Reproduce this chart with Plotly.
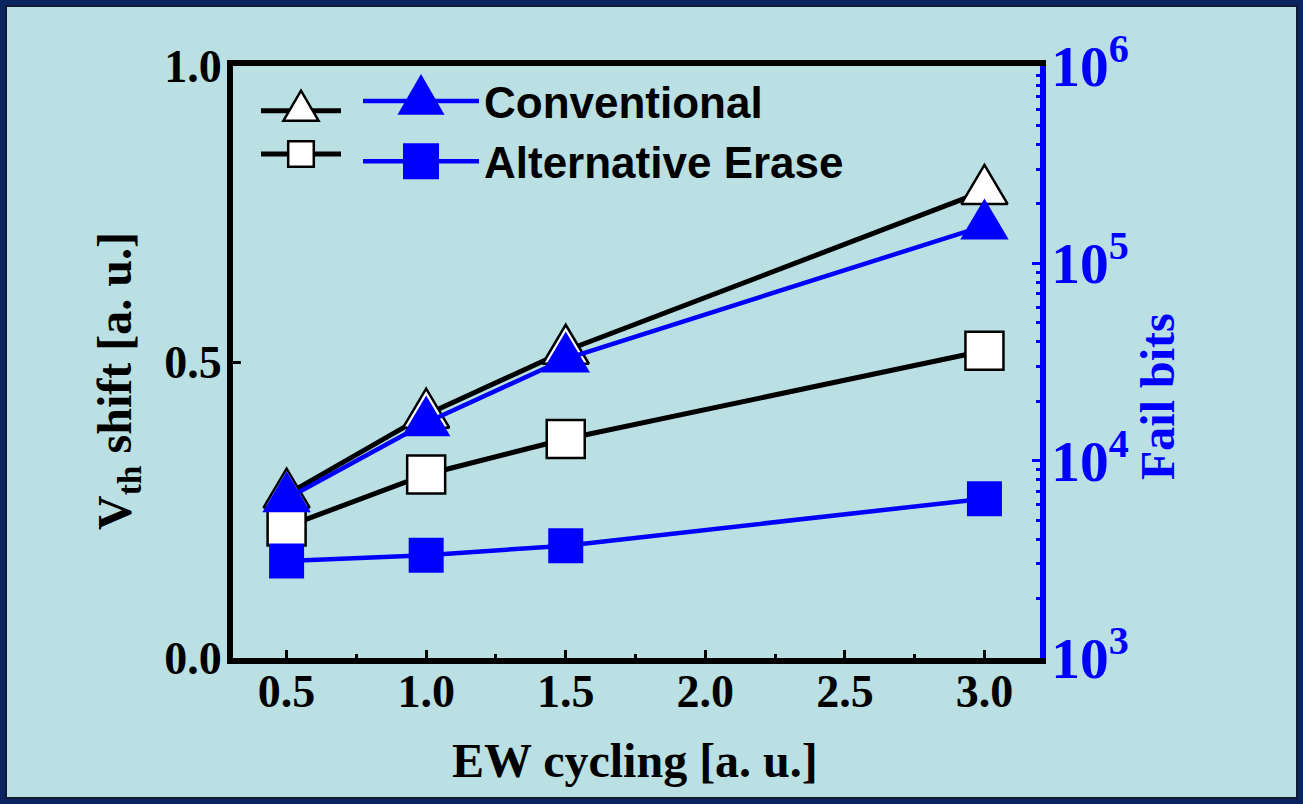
import plotly.graph_objects as go

# ---- data ----
ew_cycles = [0.5, 1.0, 1.5, 3.0]
vth_conventional = [0.276, 0.411, 0.519, 0.789]
vth_alt_erase = [0.222, 0.310, 0.370, 0.519]
failbits_conventional = [6420, 15570, 32840, 154900]
failbits_alt_erase = [3100, 3320, 3710, 6420]
legend_labels = ["Conventional", "Alternative Erase"]

x_tick_vals = [0.5, 1.0, 1.5, 2.0, 2.5, 3.0]
y_tick_vals = [0.0, 0.5, 1.0]

x_title = "EW cycling [a. u.]"
y_title = "V<sub>th</sub> shift [a. u.]"
y2_title = "Fail bits"

# ---- geometry ----
W, H = 1303, 804
ML, MR, MT, MB = 233, 263, 66, 146
PW = W - ML - MR
PH = H - MT - MB


def px_x(p):
    return (p - ML) / PW


def px_y(p):
    return (H - MB - p) / PH


BG = "#bae0e3"
NAVY = "#0b2462"
BLUE = "#0000ff"
SERIF = "Liberation Serif, Times New Roman, serif"
SANS = "Liberation Sans, Arial, sans-serif"

fig = go.Figure()

# black (left axis, Vth shift)
fig.add_trace(go.Scatter(
    x=ew_cycles, y=vth_conventional, mode="lines+markers", name=" ",
    line=dict(color="black", width=5),
    marker=dict(symbol="triangle-up", size=40, color="white",
                line=dict(color="black", width=2.5)),
    legend="legend", yaxis="y"))
fig.add_trace(go.Scatter(
    x=ew_cycles, y=vth_alt_erase, mode="lines+markers", name=" ",
    line=dict(color="black", width=5),
    marker=dict(symbol="square", size=38, color="white",
                line=dict(color="black", width=2.5)),
    legend="legend", yaxis="y"))

# blue (right axis, fail bits)
fig.add_trace(go.Scatter(
    x=ew_cycles, y=failbits_conventional, mode="lines+markers",
    name=legend_labels[0],
    line=dict(color=BLUE, width=4.5),
    marker=dict(symbol="triangle-up", size=42, color=BLUE,
                line=dict(color=BLUE, width=0)),
    legend="legend2", yaxis="y2"))
fig.add_trace(go.Scatter(
    x=ew_cycles, y=failbits_alt_erase, mode="lines+markers",
    name=legend_labels[1],
    line=dict(color=BLUE, width=4.5),
    marker=dict(symbol="square", size=35, color=BLUE,
                line=dict(color=BLUE, width=0)),
    legend="legend2", yaxis="y2"))

tick_font = dict(family=SERIF, size=46, color="black", weight="bold")
title_font = dict(family=SERIF, size=48, color="black", weight="bold")

fig.update_layout(
    width=W, height=H,
    margin=dict(l=ML, r=MR, t=MT, b=MB),
    paper_bgcolor=NAVY,
    plot_bgcolor="rgba(0,0,0,0)",
    xaxis=dict(
        range=[0.308, 3.199], tickmode="array", tickvals=x_tick_vals,
        ticktext=[f"{v:.1f}" for v in x_tick_vals],
        ticks="inside", ticklen=8, tickwidth=3, tickcolor="black",
        minor=dict(ticks="inside", ticklen=4, tickwidth=3, tickcolor="black",
                   tick0=0.75, dtick=0.5, showgrid=False),
        showline=True, linecolor="black", linewidth=6, mirror=True,
        showgrid=False, zeroline=False,
        tickfont=tick_font, ticklabelstandoff=-12,
    ),
    yaxis=dict(
        range=[0, 1.0], tickmode="array", tickvals=y_tick_vals,
        ticktext=[f"{v:.1f}" for v in y_tick_vals],
        ticks="inside", ticklen=8, tickwidth=3, tickcolor="black",
        showline=True, linecolor="black", linewidth=6,
        showgrid=False, zeroline=False,
        tickfont=tick_font, ticklabelstandoff=-4,
    ),
    yaxis2=dict(
        type="log", range=[3, 6], overlaying="y", side="right",
        dtick=1, exponentformat="power",
        ticks="inside", ticklen=8, tickwidth=3, tickcolor=BLUE,
        minor=dict(ticks="inside", ticklen=4, tickwidth=3, tickcolor=BLUE,
                   dtick="D1", showgrid=False),
        showline=True, linecolor=BLUE, linewidth=6,
        showgrid=False, zeroline=False,
        tickfont=dict(family=SERIF, size=46, color=BLUE, weight="bold"),
        ticklabelstandoff=-4,
    ),
    legend=dict(
        x=px_x(256), y=px_y(84), xanchor="left", yanchor="top",
        bgcolor="rgba(0,0,0,0)", borderwidth=0,
        font=dict(family=SANS, size=31, color="black", weight="bold"),
        itemsizing="trace", itemwidth=80, tracegroupgap=0,
    ),
    legend2=dict(
        x=px_x(358), y=px_y(66), xanchor="left", yanchor="top",
        bgcolor="rgba(0,0,0,0)", borderwidth=0,
        font=dict(family=SANS, size=44, color="black", weight="bold"),
        itemsizing="trace", itemwidth=116, tracegroupgap=0,
    ),
    showlegend=True,
    annotations=[
        dict(text=x_title, xref="paper", yref="paper", x=px_x(635), y=px_y(760),
             xanchor="center", yanchor="middle", showarrow=False, font=title_font),
        dict(text=y_title, xref="paper", yref="paper", x=px_x(118), y=px_y(381),
             xanchor="center", yanchor="middle", showarrow=False, textangle=-90,
             font=title_font),
        dict(text=y2_title, xref="paper", yref="paper", x=px_x(1157), y=px_y(397),
             xanchor="center", yanchor="middle", showarrow=False, textangle=-90,
             font=dict(family=SERIF, size=48, color=BLUE, weight="bold")),
    ],
    shapes=[
        dict(type="rect", xref="paper", yref="paper", layer="below",
             x0=px_x(6), x1=px_x(W - 6), y0=px_y(H - 6), y1=px_y(6),
             fillcolor=BG, line=dict(color="#111a33", width=2)),
    ],
)

# Cosmetic: Origin-style equilateral triangles and larger legend keys
post_js = """
var gd = document.getElementById('{plot_id}');
function isTri(p){ return (p.getAttribute('d') || '').indexOf('L0,-') >= 0; }
function isWhite(p){ return (p.style.fill || '').replace(/\\s/g,'').indexOf('255,255,255') >= 0; }
function addScale(p, sx, sy){
  if (p.getAttribute('data-fx')) return;
  p.setAttribute('transform', (p.getAttribute('transform') || '') + ' scale(' + sx + ',' + sy + ')');
  p.style.vectorEffect = 'non-scaling-stroke';
  p.setAttribute('data-fx', '1');
}
function fixAll(){
  gd.querySelectorAll('.scatterlayer path.point').forEach(function(p){
    if (isTri(p)) addScale(p, 1, 1.3);
  });
  gd.querySelectorAll('.infolayer path.scatterpts').forEach(function(p){
    var tri = isTri(p), wh = isWhite(p);
    if (tri && wh) addScale(p, 1.9, 2.5);
    else if (tri) addScale(p, 2.55, 3.4);
    else if (wh) addScale(p, 1.6, 1.6);
    else addScale(p, 2.25, 2.25);
  });
}
fixAll();
setTimeout(fixAll, 50);
"""

fig.write_html("out.html", post_script=post_js)
